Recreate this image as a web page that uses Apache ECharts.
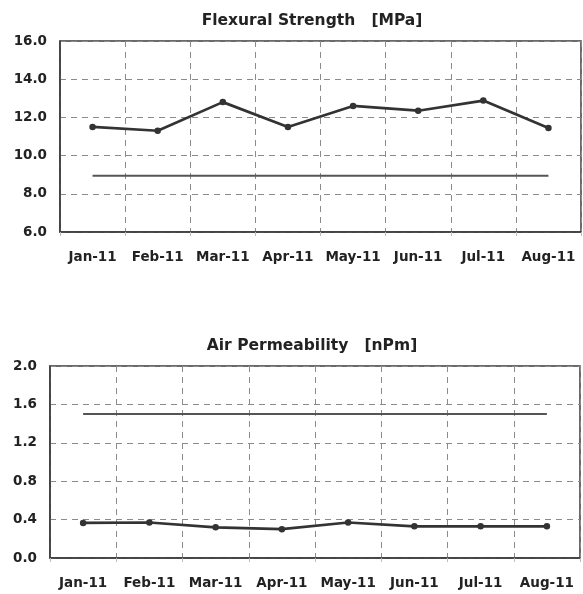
<!DOCTYPE html>
<html>
<head>
<meta charset="utf-8">
<script src="https://cdn.jsdelivr.net/npm/echarts@6/dist/echarts.min.js"></script>
<style>
html,body{margin:0;padding:0;background:#fff;}
#c{width:583px;height:594px;}
</style>
</head>
<body>
<div id="c"></div>
<script>
const months = ['Jan-11','Feb-11','Mar-11','Apr-11','May-11','Jun-11','Jul-11','Aug-11'];
const flexTitle = 'Flexural Strength   [MPa]';
const airTitle = 'Air Permeability   [nPm]';
const flexValues = [11.5, 11.3, 12.8, 11.5, 12.6, 12.35, 12.88, 11.45];
const flexLimit = [8.95, 8.95, 8.95, 8.95, 8.95, 8.95, 8.95, 8.95];
const airValues = [0.365, 0.37, 0.32, 0.30, 0.37, 0.33, 0.33, 0.33];
const airLimit = [1.5, 1.5, 1.5, 1.5, 1.5, 1.5, 1.5, 1.5];
const flexTicks = {min: 6, max: 16, interval: 2};
const airTicks = {min: 0, max: 2, interval: 0.4};

const FONT = 'DejaVu Sans';
const dash = {type: [6, 5], color: '#8a8a8a', width: 1};
function xAxis(gi){
  return {type:'category', gridIndex: gi, data: months, boundaryGap: true,
    axisLine:{show:true, lineStyle:{color:'#3a3a3a', width:1.5}},
    axisTick:{show:true, interval:0, length:4, alignWithLabel:false, lineStyle:{color:'#bbb'}},
    axisLabel:{interval:0, color:'#222', fontFamily:FONT, fontWeight:'bold', fontSize:13.5, margin:18},
    splitLine:{show:true, interval:0, lineStyle:dash}};
}
function yAxis(gi, t){
  return {type:'value', gridIndex: gi, min:t.min, max:t.max, interval:t.interval,
    axisLine:{show:true, lineStyle:{color:'#3a3a3a', width:1.5}},
    axisTick:{show:false},
    axisLabel:{color:'#222', fontFamily:FONT, fontWeight:'bold', fontSize:13.5, margin:13,
      formatter: v => v.toFixed(1)},
    splitLine:{show:true, lineStyle:dash}};
}
function dataSeries(i, vals){
  return {type:'line', xAxisIndex:i, yAxisIndex:i, data: vals, symbol:'circle', symbolSize:6.5,
    lineStyle:{color:'#333', width:2.7}, itemStyle:{color:'#333'}, silent:true, z:3};
}
function limitSeries(i, vals){
  return {type:'line', xAxisIndex:i, yAxisIndex:i, data: vals, symbol:'none',
    lineStyle:{color:'#555', width:2}, silent:true, z:2};
}
const chart = echarts.init(document.getElementById('c'), null, {renderer:'canvas'});
chart.setOption({
  animation:false,
  backgroundColor:'#fff',
  title:[
    {text: flexTitle, left: 307, top: 8, textAlign:'center',
      textStyle:{fontFamily:FONT, fontWeight:'bold', fontSize:15.5, color:'#222'}},
    {text: airTitle, left: 307, top: 333, textAlign:'center',
      textStyle:{fontFamily:FONT, fontWeight:'bold', fontSize:15.5, color:'#222'}}
  ],
  grid:[
    {left:60, right:2, top:41, height:191, show:true, borderColor:'#3a3a3a', borderWidth:1.5},
    {left:50, right:3, top:366, height:192, show:true, borderColor:'#3a3a3a', borderWidth:1.5}
  ],
  xAxis:[xAxis(0), xAxis(1)],
  yAxis:[yAxis(0, flexTicks), yAxis(1, airTicks)],
  series:[limitSeries(0, flexLimit), dataSeries(0, flexValues), limitSeries(1, airLimit), dataSeries(1, airValues)]
});
</script>
</body>
</html>
